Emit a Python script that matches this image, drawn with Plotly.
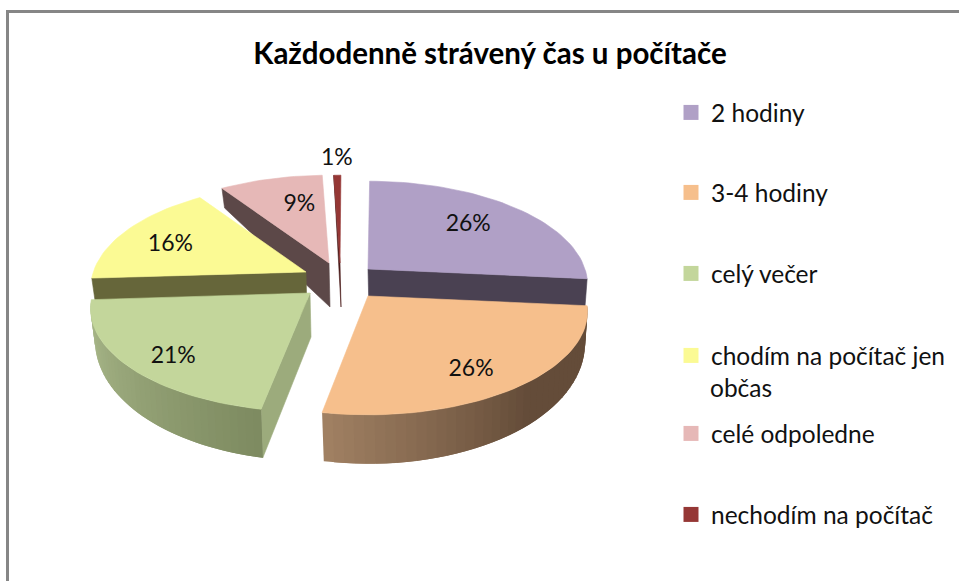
import math
import plotly.graph_objects as go

# ---- data ----
categories = ["2 hodiny", "3-4 hodiny", "celý večer", "chodím na počítač jen<br>občas",
              "celé odpoledne", "nechodím na počítač"]
values = [24, 24, 19, 15, 8, 1]
title_text = "Každodenně strávený čas u počítače"

# ---- style ----
top_colors = ["#b0a0c6", "#f6bf8c", "#c3d69b", "#fbfa94", "#e6b8b7", "#953735"]
wall_colors = ["#4a4152", None, "#9cab7c", "#66663a", "#5c4848", "#4a1b1a"]
rim_gradients = {1: ((160, 128, 98), (100, 76, 57)), 2: ((173, 188, 142), (125, 138, 96))}
apexes = [(368, 269), (368, 296), (310, 293), (306, 272), (329, 263), (340, 263)]
wedge_rot = [0, 0, 0.7, 1.0, 1.4, 0]
wedge_rx = [1, 1, 1, 0.98, 1, 0.55]
label_radius = [0.72, 0.72, 0.78, 0.74, 0.65, 1.23]
label_nudge = [(-8, 2), (0, 11), (1, 8), (-1, 5), (10, -1), (0, 1)]
legend_y = [104, 184, 265, 347, 425, 506]
FONT = "Lato"
RX, RY, PERSP, ROT = 217, 101, 0.15, 0.5
APEX_DEPTH = 44


def project(i, theta, r=1.0):
    t = math.radians(theta + ROT + wedge_rot[i])
    X, Y = r * math.sin(t), r * math.cos(t)
    w = 1 + PERSP * Y
    return RX * wedge_rx[i] * X / w, -RY * Y / w, Y


def top_point(i, theta, r=1.0):
    px, py, _ = project(i, theta, r)
    return apexes[i][0] + px, apexes[i][1] + py


def bottom_point(i, theta):
    px, py, Y = project(i, theta)
    d = 28 - 21 * Y if Y < 0 else 28 - 10 * Y
    return apexes[i][0] + px * 0.985 + 1, apexes[i][1] + py + d


def poly(points, color, width=0.6):
    xs = [p[0] for p in points] + [points[0][0]]
    ys = [p[1] for p in points] + [points[0][1]]
    return go.Scatter(x=xs, y=ys, mode="lines", fill="toself", fillcolor=color,
                      line=dict(color=color, width=width), hoverinfo="skip", showlegend=False)


total = sum(values)
edges = [0.0]
for v in values:
    edges.append(edges[-1] + 360 * v / total)

fig = go.Figure()


def draw_wall(i, theta):
    ax, ay = apexes[i]
    fig.add_trace(poly([(ax, ay), top_point(i, theta), bottom_point(i, theta),
                        (ax + 1, ay + APEX_DEPTH)], wall_colors[i]))


def draw_rim(i):
    a, b = edges[i], edges[i + 1]
    n = 40
    c0, c1 = rim_gradients[i]
    # colours run left to right across the picture; each band overlaps the next so no seams show
    for k in range(n):
        f = k / n
        t0 = b + (a - b) * f
        t1 = b + (a - b) * min(1, (k + 2) / n)
        g = f if i == 2 else min(1, f * 1.9)
        col = tuple(int(c0[j] + (c1[j] - c0[j]) * g) for j in range(3))
        fig.add_trace(poly([top_point(i, t0), top_point(i, t1), bottom_point(i, t1), bottom_point(i, t0)],
                           "rgb(%d,%d,%d)" % col, width=0))


def draw_top(i):
    a, b = edges[i], edges[i + 1]
    n = max(6, int((b - a) / 2))
    pts = [apexes[i]] + [top_point(i, a + (b - a) * k / n) for k in range(n + 1)]
    fig.add_trace(poly(pts, top_colors[i]))


# back to front
draw_wall(0, edges[1]); draw_top(0)
draw_wall(5, edges[5]); draw_top(5)
draw_wall(4, edges[4]); draw_top(4)
draw_wall(3, edges[3]); draw_top(3)
draw_wall(2, edges[2]); draw_rim(2); draw_top(2)
draw_rim(1); draw_top(1)

# percentage labels
lx, ly, lt = [], [], []
for i, v in enumerate(values):
    x, y = top_point(i, (edges[i] + edges[i + 1]) / 2, label_radius[i])
    lx.append(x + label_nudge[i][0]); ly.append(y + label_nudge[i][1])
    lt.append(f"{round(100 * v / total)}%")
fig.add_trace(go.Scatter(x=lx, y=ly, text=lt, mode="text", textposition="middle center",
                         textfont=dict(family=FONT, size=23, color="#111111"),
                         hoverinfo="skip", showlegend=False))

# one legend per entry so each row sits where the reference has it
layout_legends = {}
annotations = []
LEGEND_FONT = dict(family=FONT, size=24.5, color="#111111")
for i, name in enumerate(categories):
    key = "legend" if i == 0 else f"legend{i + 1}"
    lines = name.split("<br>")
    fig.add_trace(go.Scatter(x=[None], y=[None], mode="markers", name=lines[0], legend=key,
                             marker=dict(symbol="square", size=15, color=top_colors[i]),
                             showlegend=True))
    layout_legends[key] = dict(
        x=671 / 959, xanchor="left", y=1 - (legend_y[i] - 14) / 581, yanchor="top",
        bgcolor="rgba(0,0,0,0)", borderwidth=0, itemwidth=30, font=LEGEND_FONT,
    )
    # the marker stays on the first line of a wrapped entry, so the wrapped part is placed under it
    for extra in lines[1:]:
        annotations.append(dict(text=extra, xref="x", yref="y", x=708, y=legend_y[i] + 40,
                                xanchor="left", yanchor="middle", showarrow=False, font=LEGEND_FONT))

fig.update_layout(
    width=959, height=581, margin=dict(l=0, r=0, t=0, b=0, pad=0),
    paper_bgcolor="white", plot_bgcolor="white",
    xaxis=dict(range=[0, 959], visible=False, fixedrange=True),
    yaxis=dict(range=[581, 0], visible=False, fixedrange=True),
    title=dict(text=f"<b>{title_text}</b>", x=490 / 959, xanchor="center", y=1 - 54 / 581, yanchor="middle",
               font=dict(family=FONT, size=29.5, color="#000000")),
    annotations=annotations,
    shapes=[
        dict(type="line", xref="x", yref="y", x0=6, x1=959, y0=11.5, y1=11.5, line=dict(color="#868686", width=3)),
        dict(type="line", xref="x", yref="y", x0=7.5, x1=7.5, y0=10, y1=581, line=dict(color="#868686", width=3)),
    ],
    **layout_legends,
)
fig.write_html("out.html", config=dict(displayModeBar=False),
               post_script="document.body.style.margin='0';document.body.style.overflow='hidden';")
